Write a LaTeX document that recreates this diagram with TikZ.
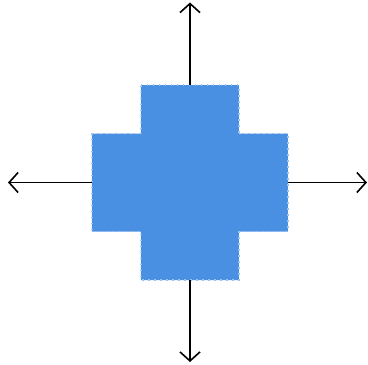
\documentclass[tikz,border=0pt]{standalone}
\usepackage{tikz}
\usetikzlibrary{arrows.meta}
\definecolor{crossblue}{HTML}{4A90E2}
\definecolor{crossedge}{HTML}{9CC3F0}

\begin{document}
\begin{tikzpicture}[x=1pt,y=1pt, >={Straight Barb[length=9pt,width=20pt,line width=1.6pt]},
  crossbody/.style={fill=crossblue,draw=crossedge,dash pattern=on 1.5pt off 4.5pt,line width=1.4pt},
  ray/.style={->,line width=1.7pt,black}]
\useasboundingbox (-190,-182.5) rectangle (178,182.5);
% cross of five squares
\draw[crossbody] (-49,97.5) -- (49,97.5) -- (49,49) -- (98,49) -- (98,-49) -- (49,-49)
  -- (49,-97.5) -- (-49,-97.5) -- (-49,-49) -- (-98,-49) -- (-98,49) -- (-49,49) -- cycle;
\coordinate (top) at (0,97.5);
\coordinate (bottom) at (0,-97.5);
\coordinate (left) at (-98,0);
\coordinate (right) at (98,0);
\coordinate (north) at (0,180);
\coordinate (south) at (0,-179.5);
\coordinate (west) at (-182,0);
\coordinate (east) at (177,0);
\draw[ray] (top) -- (north);
\draw[ray] (bottom) -- (south);
\draw[ray] (left) -- (west);
\draw[ray] (right) -- (east);
\end{tikzpicture}
\end{document}
